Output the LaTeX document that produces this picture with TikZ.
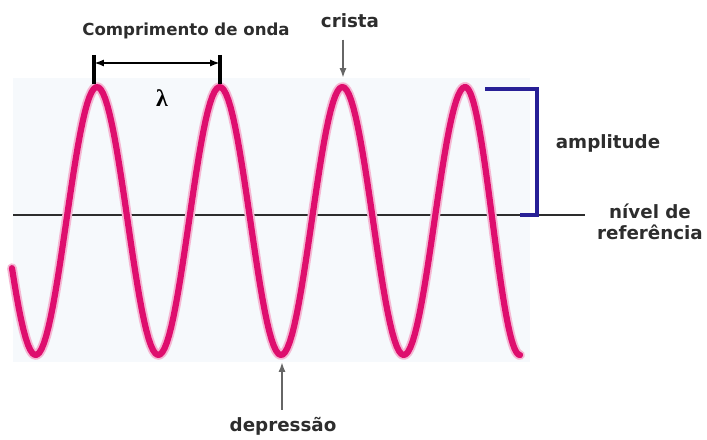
\documentclass[tikz,border=0pt]{standalone}
\usepackage{fontspec}
\setsansfont{DejaVu Sans}
\newfontfamily\lamfont{Liberation Serif}
\usetikzlibrary{arrows.meta, positioning}
\definecolor{wavepink}{RGB}{222,14,110}
\definecolor{ampblue}{RGB}{40,32,150}
\definecolor{labelgray}{RGB}{45,45,45}
\definecolor{panel}{RGB}{246,249,252}

\begin{document}
\begin{tikzpicture}[x=0.025cm, y=-0.025cm,
lbl/.style={font=\sffamily\bfseries\fontsize{13}{15}\selectfont, text=labelgray, inner sep=0pt},
arrow/.style={-{Latex[length=7pt, width=5pt]}, gray!80!black, line width=1.4pt},
wave/.style={wavepink, line width=4.4pt, line cap=round, line join=round},
halo/.style={wavepink!30, line width=7pt, line cap=round, line join=round}
]
\useasboundingbox (0,0) rectangle (707,439);
% faint panel behind the wave
\fill[panel] (13,78) rectangle (530,362);

% reference level
\draw[labelgray, line width=1pt] (13,215) -- (585,215);

% the wave
\draw[halo] plot[domain=12:465, samples=200] (\x, {221-134*cos((\x-97)/122.7*360)});
\draw[halo] plot[domain=465:520, samples=40] (\x, {221-134*cos((\x-465)/55*180)});
\draw[wave] plot[domain=12:465, samples=200] (\x, {221-134*cos((\x-97)/122.7*360)});
\draw[wave] plot[domain=465:520, samples=40] (\x, {221-134*cos((\x-465)/55*180)});

% wavelength
\node[lbl, font=\sffamily\bfseries\fontsize{11.8}{14}\selectfont] (wavelen) at (186,31) {Comprimento de onda};
\coordinate (lamL) at (94,63);
\coordinate (lamR) at (220,63);
\draw[black, line width=2.4pt] (lamL) ++(0,-8) -- ++(0,29);
\draw[black, line width=2.4pt] (lamR) ++(0,-8) -- ++(0,29);
\draw[{Latex[length=7pt, width=5pt]}-{Latex[length=7pt, width=5pt]}, black, line width=1.5pt] (lamL) -- (lamR);
\node (lam) at (162,98) {\lamfont\bfseries\fontsize{17}{17}\selectfont λ};

% crest
\node[lbl] (crestlbl) at (350,21) {crista};
\coordinate (crestpt) at (343,78);
\draw[arrow, shorten <=8pt] (crestlbl.south -| crestpt) -- (crestpt);

% trough
\node[lbl] (troughlbl) at (283,426) {depressão};
\coordinate (troughpt) at (282,362);
\draw[arrow, shorten <=5pt] (troughlbl.north -| troughpt) -- (troughpt);

% amplitude
\draw[ampblue, line width=2.6pt] (485,89) -- (537,89) -- (537,215) -- (520,215);
\node[lbl] (amplbl) at (608,143) {amplitude};

\node[lbl, align=center] (reflbl) at (650,222) {nível de\\referência};
\end{tikzpicture}
\end{document}
